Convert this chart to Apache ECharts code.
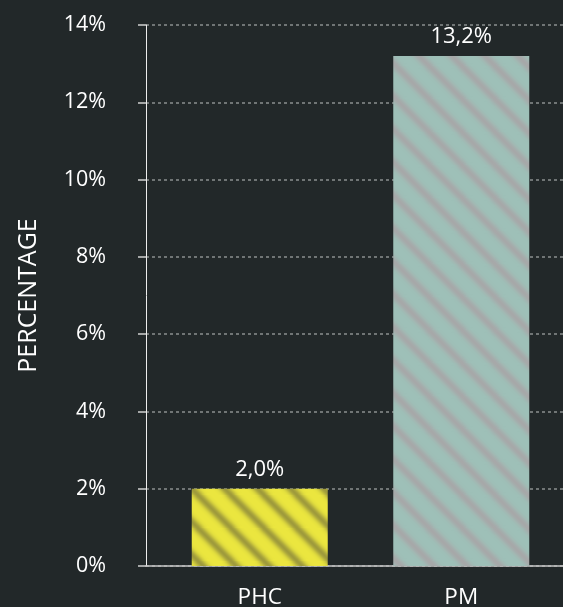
<!DOCTYPE html>
<html>
<head>
<meta charset="utf-8">
<script src="https://cdn.jsdelivr.net/npm/echarts@6/dist/echarts.min.js"></script>
<style>
  html, body { margin: 0; padding: 0; background: #222829; }
  #chart { width: 563px; height: 607px; }
</style>
</head>
<body>
<div id="chart"></div>
<script>
// Share of each segment, in percent
const categories = ['PHC', 'PM'];
const shareValues = [2.0, 13.2];
const yTicks = [0, 2, 4, 6, 8, 10, 12, 14];

const FONT = '"Open Sans", sans-serif';
const WEIGHT = 400;
const TEXT = '#ffffff';

// Diagonal, softly blurred stripe tile used as the bar fill
function stripeTile(base, stripe) {
  const s = 33;
  const c = document.createElement('canvas');
  c.width = s; c.height = s;
  const g = c.getContext('2d');
  g.fillStyle = base;
  g.fillRect(0, 0, s, s);
  g.filter = 'blur(2.4px)';
  g.strokeStyle = stripe;
  g.lineWidth = 6;
  for (let k = -1; k <= 1; k++) {
    g.beginPath();
    g.moveTo(k * s - 4, -4);
    g.lineTo(k * s + s + 4, s + 4);
    g.stroke();
  }
  return c;
}

const fills = [
  { image: stripeTile('#ebe63f', '#86823a'), repeat: 'repeat' },
  { image: stripeTile('#9ec0b8', '#aaa0a4'), repeat: 'repeat' }
];

const chart = echarts.init(document.getElementById('chart'), null, { renderer: 'canvas' });

chart.setOption({
  backgroundColor: '#222829',
  animation: false,
  grid: [
    { left: 146, right: 0, top: 25, bottom: 41, outerBoundsMode: 'none' },
    { left: 159, right: 1, top: 25, bottom: 41, outerBoundsMode: 'none' }
  ],
  xAxis: [
    {
      gridIndex: 0, type: 'category', data: categories,
      axisLine: { show: true, lineStyle: { color: '#c8c8c8', width: 1.5 } },
      axisTick: { show: false },
      axisLabel: { show: false }
    },
    {
      gridIndex: 1, type: 'category', data: categories,
      axisLine: { show: false },
      axisTick: { show: false },
      axisLabel: { color: TEXT, fontFamily: FONT, fontWeight: WEIGHT, fontSize: 22.5, margin: 20 }
    }
  ],
  yAxis: [
    {
      gridIndex: 0, type: 'value', min: 0, max: 14, interval: 2,
      name: 'PERCENTAGE', nameLocation: 'middle', nameGap: 105, nameRotate: 90,
      nameTextStyle: { color: TEXT, fontFamily: FONT, fontWeight: WEIGHT, fontSize: 25 },
      axisLine: { show: true, lineStyle: { color: '#ededed', width: 1 } },
      axisTick: { show: true, length: 8, lineStyle: { color: '#cfcfcf', width: 1.5 } },
      axisLabel: {
        color: TEXT, fontFamily: FONT, fontWeight: WEIGHT, fontSize: 21.5, margin: 40,
        formatter: v => (yTicks.includes(v) ? v + '%' : '')
      },
      splitLine: { show: true, lineStyle: { color: '#8a8e8e', type: [3, 3], width: 1.5 } }
    },
    {
      gridIndex: 1, type: 'value', min: 0, max: 14, interval: 2,
      show: false, splitLine: { show: false }
    }
  ],
  series: [{
    type: 'bar',
    xAxisIndex: 1, yAxisIndex: 1,
    data: shareValues.map((v, i) => ({ value: v, itemStyle: { color: fills[i] } })),
    barWidth: 136,
    label: {
      show: true, position: 'top', distance: 8,
      color: TEXT, fontFamily: FONT, fontWeight: WEIGHT, fontSize: 22,
      formatter: p => p.value.toFixed(1).replace('.', ',') + '%'
    }
  }]
});
</script>
</body>
</html>
